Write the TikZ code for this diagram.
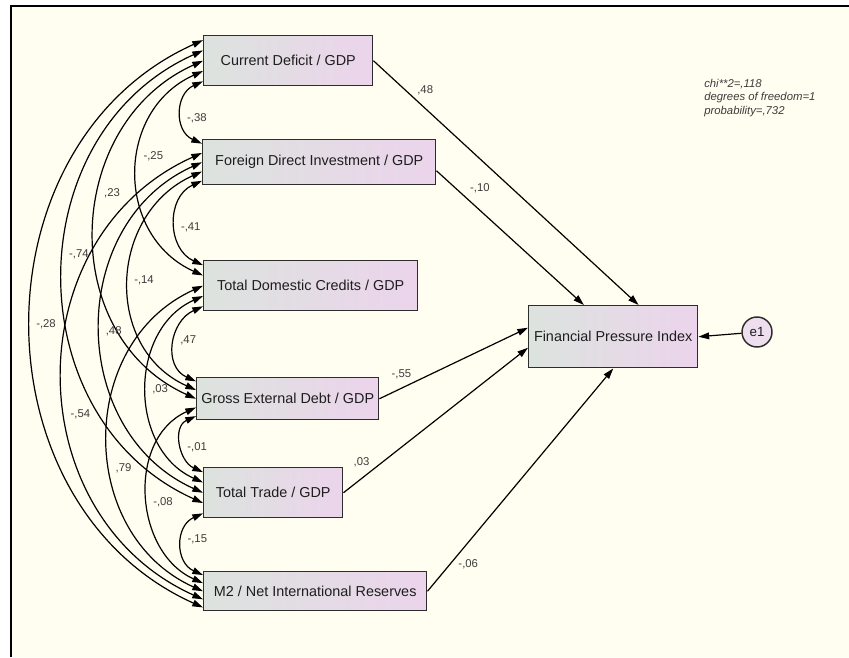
\documentclass[tikz,border=0pt]{standalone}
\usepackage{fontspec}
\setmainfont{Liberation Sans}
\usepackage{xcolor}
\usetikzlibrary{arrows.meta,calc}

\definecolor{bgcream}{RGB}{255,254,240}
\definecolor{boxL}{RGB}{220,227,222}
\definecolor{boxR}{RGB}{236,212,236}
\definecolor{errfill}{RGB}{238,222,238}
\definecolor{boxline}{RGB}{45,45,45}
\definecolor{txt}{RGB}{30,30,30}
\definecolor{lbltxt}{RGB}{60,60,60}

\begin{document}
\begin{tikzpicture}[x=0.75pt, y=-0.75pt,
  var/.style={draw=boxline, line width=1.1pt, left color=boxL, right color=boxR, inner sep=0pt, anchor=north west, text=txt, font=\fontsize{10.8}{13}\selectfont},
  lbl/.style={text=lbltxt, inner sep=1.5pt, font=\fontsize{8.5}{10}\selectfont},
  reg/.style={-{Triangle[length=8pt,width=5pt]}, line width=0.9pt},
  cov/.style={{Triangle[length=8pt,width=5pt]}-{Triangle[length=8pt,width=5pt]}, line width=0.9pt}]
\useasboundingbox (0,0) rectangle (849,657);
\fill[white] (0,0) rectangle (849,657);
\fill[bgcream] (11,6) rectangle (849,657);
\draw[line width=1.1pt] (11,657) -- (11,6) -- (849,6);

% observed variables
\node[var, minimum width=126.75pt, minimum height=37.5pt] (cd) at (203,35) {Current Deficit / GDP};
\node[var, minimum width=174.75pt, minimum height=33.75pt] (fdi) at (202,139) {Foreign Direct Investment / GDP};
\node[var, minimum width=160.5pt, minimum height=37.5pt] (tdc) at (203,260) {Total Domestic Credits / GDP};
\node[var, minimum width=136.5pt, minimum height=31.5pt] (ged) at (196,377) {Gross External Debt / GDP};
\node[var, minimum width=104.25pt, minimum height=37.5pt] (tt) at (203,467) {Total Trade / GDP};
\node[var, minimum width=167.25pt, minimum height=29.25pt] (m2) at (203,571) {M2 / Net International Reserves};
\node[var, minimum width=126.75pt, minimum height=46.5pt] (fpi) at (528,305) {Financial Pressure Index};
\node[circle, draw=boxline, line width=1.1pt, fill=errfill, minimum size=22.5pt, inner sep=0pt, text=txt, font=\fontsize{10}{12}\selectfont] (e1) at (757,332) {e1};

% fit
\node[lbl, anchor=north west, align=left, font=\fontsize{8.5}{10}\selectfont\itshape] (fit) at (702,77) {chi**2=,118\\degrees of freedom=1\\probability=,732};

% regression weights
\draw[reg] (cd.east) -- ([xshift=19pt]fpi.north) node[lbl, pos=0.16, xshift=7pt, yshift=7.5pt] {,48};
\draw[reg] ([yshift=-6.4pt]fdi.east) -- ([xshift=-22pt]fpi.north) node[lbl, pos=0.22, xshift=8.2pt, yshift=8.8pt] {-,10};
\draw[reg] (ged.east) -- ([yshift=6.75pt]fpi.west) node[lbl, pos=0.185, xshift=-4.2pt, yshift=8.8pt] {-,55};
\draw[reg] (tt.east) -- ([yshift=-8.25pt]fpi.west) node[lbl, pos=0.14, xshift=-5.8pt, yshift=7.3pt] {,03};
\draw[reg] (m2.east) -- (fpi.south) node[lbl, pos=0.16, xshift=8.3pt, yshift=-6.8pt] {-,06};
\draw[reg] (e1) -- (fpi.east);

% correlations
\foreach \a/\sa/\b/\sb/\s/\p/\lab in {
  cd/4/fdi/0/21/0.58/{-,38}, cd/3/tdc/1/66/0.43/{-,25}, cd/2/ged/2/105/0.41/{,23},
  cd/1/tt/3/140/0.46/{-,74}, cd/0/m2/4/172/0.50/{-,28},
  fdi/4/tdc/0/27/0.54/{-,41}, fdi/3/ged/1/70/0.50/{-,14}, fdi/2/tt/2/102/0.51/{,48},
  fdi/1/m2/3/140/0.57/{-,54},
  tdc/4/ged/0/25/0.46/{,47}, tdc/3/tt/1/56/0.50/{,03}, tdc/2/m2/2/95/0.58/{,79},
  ged/4/tt/0/18/0.55/{-,01}, ged/3/m2/1/52/0.53/{-,08},
  tt/4/m2/0/21/0.44/{-,15}}{
  \pgfmathsetmacro\fa{(\sa+0.5)/5}
  \pgfmathsetmacro\fb{(\sb+0.5)/5}
  \draw[cov] ($(\a.north west)!\fa!(\a.south west)$) .. controls +(-4*\s/3, 0.6*\s) and +(-4*\s/3, -0.6*\s) .. ($(\b.north west)!\fb!(\b.south west)$) node[lbl, pos=\p, anchor=west, xshift=2pt] {\lab};
}
\end{tikzpicture}
\end{document}
